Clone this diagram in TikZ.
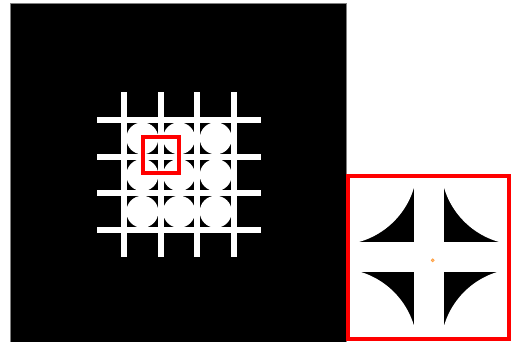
\documentclass[tikz,border=0pt]{standalone}
\usetikzlibrary{calc}
\newcommand\gridpattern{%
  \foreach \i in {0,1,2}{%
    \foreach \j in {0,1,2}{%
      \fill[white] ({142.35+36.7*\i},{138.35+36.7*\j}) circle[radius=16];
    }%
  }%
  \foreach \k in {0,1,2,3}{%
    \fill[white] ({124+36.7*\k-3},92) rectangle ({124+36.7*\k+3},257);
    \fill[white] (97,{120+36.7*\k-3}) rectangle (261,{120+36.7*\k+3});
  }%
}
\begin{document}
\begin{tikzpicture}[x=1pt,y=-1pt,
  redbox/.style={draw=red,line width=4pt},
  dotmark/.style={fill=orange!55,draw=orange!80,line width=0.5pt}]
\useasboundingbox (0,0) rectangle (513,342);
\fill[white] (0,0) rectangle (513,342);
% main black panel
\fill[black] (10,3.5) rectangle (346,342);
\draw[gray,line width=0.8pt] (10,342) -- (10,3.5) -- (346,3.5) -- (346,342);
\gridpattern
% small red box
\draw[redbox] (143,137) rectangle (179,173);
% inset
\begin{scope}
  \clip (350,177.5) rectangle (507,336.5);
  \fill[black] (350,177.5) rectangle (507,336.5);
  \begin{scope}[shift={(-374.5,-526.8)},scale=5]
    \gridpattern
  \end{scope}
\end{scope}
\draw[redbox] (348,175.5) rectangle (509,338.5);
\filldraw[dotmark] (432.7,260.3) circle[radius=1.6];
\end{tikzpicture}
\end{document}
